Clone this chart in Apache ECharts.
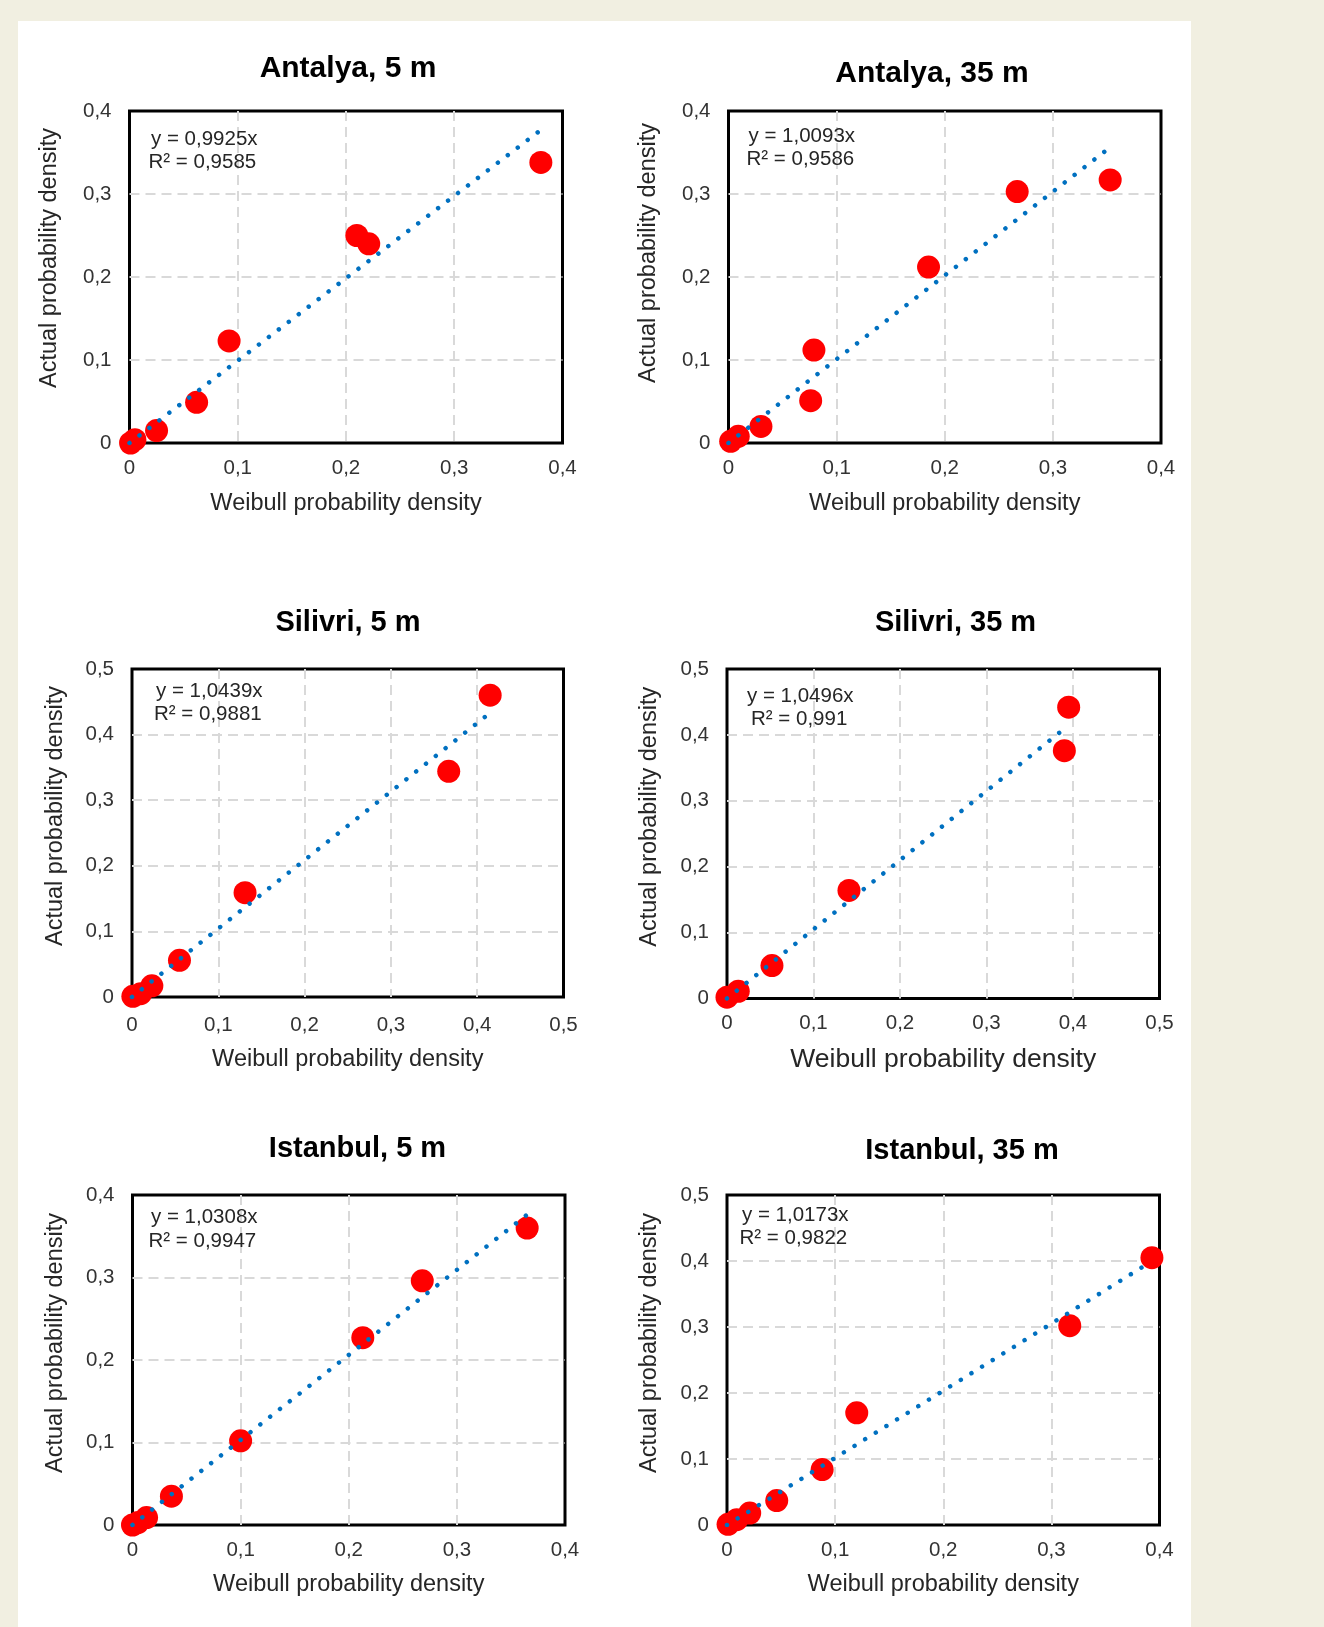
<!DOCTYPE html>
<html>
<head>
<meta charset="utf-8">
<script src="https://cdn.jsdelivr.net/npm/echarts@6/dist/echarts.min.js"></script>
<style>
html, body {
  margin: 0;
  padding: 0;
  background: #f1efe1;
}
#sheet {
  position: absolute;
  left: 18px;
  top: 21px;
  width: 1173px;
  height: 1606px;
  background: #fff;
}
#chart {
  position: absolute;
  left: 0;
  top: 0;
  width: 1324px;
  height: 1627px;
}
</style>
</head>
<body>
<div id="sheet"></div>
<div id="chart"></div>
<script>
// values: Weibull density (x) vs actual density (y)
const antalya5Weibull = [0.001, 0.005, 0.025, 0.062, 0.092, 0.210, 0.221, 0.380]
const antalya5Actual = [0.000, 0.004, 0.015, 0.049, 0.123, 0.250, 0.240, 0.338]
const antalya35Weibull = [0.002, 0.009, 0.030, 0.076, 0.079, 0.185, 0.267, 0.353]
const antalya35Actual = [0.002, 0.008, 0.020, 0.051, 0.112, 0.212, 0.303, 0.317]
const silivri5Weibull = [0.001, 0.010, 0.023, 0.055, 0.131, 0.367, 0.415]
const silivri5Actual = [0.001, 0.005, 0.017, 0.056, 0.159, 0.344, 0.460]
const silivri35Weibull = [0.000, 0.013, 0.052, 0.141, 0.390, 0.395]
const silivri35Actual = [0.002, 0.011, 0.050, 0.164, 0.376, 0.442]
const istanbul5Weibull = [0.000, 0.005, 0.013, 0.036, 0.100, 0.213, 0.268, 0.365]
const istanbul5Actual = [0.000, 0.003, 0.009, 0.035, 0.102, 0.227, 0.296, 0.360]
const istanbul35Weibull = [0.001, 0.009, 0.021, 0.046, 0.088, 0.120, 0.317, 0.393]
const istanbul35Actual = [0.001, 0.008, 0.018, 0.037, 0.084, 0.170, 0.302, 0.405]

const titles = ['Antalya, 5 m', 'Antalya, 35 m', 'Silivri, 5 m', 'Silivri, 35 m', 'Istanbul, 5 m', 'Istanbul, 35 m']
const slopes = [0.9925, 1.0093, 1.0439, 1.0496, 1.0308, 1.0173] // trendline y = a·x
const equations = ['y = 0,9925x', 'y = 1,0093x', 'y = 1,0439x', 'y = 1,0496x', 'y = 1,0308x', 'y = 1,0173x']
const rSquared = ['R² = 0,9585', 'R² = 0,9586', 'R² = 0,9881', 'R² = 0,991', 'R² = 0,9947', 'R² = 0,9822']
const xMax = [0.4, 0.4, 0.5, 0.5, 0.4, 0.4]
const yMax = [0.4, 0.4, 0.5, 0.5, 0.4, 0.5]
const xName = 'Weibull probability density'
const yName = 'Actual probability density'

const weibull = [antalya5Weibull, antalya35Weibull, silivri5Weibull, silivri35Weibull, istanbul5Weibull, istanbul35Weibull]
const actual = [antalya5Actual, antalya35Actual, silivri5Actual, silivri35Actual, istanbul5Actual, istanbul35Actual]

// layout of the six panels (pixels)
const grids = [
  { left: 129.5, top: 111, width: 433, height: 332 },
  { left: 728.5, top: 111, width: 432.5, height: 332 },
  { left: 132, top: 669, width: 431.5, height: 328 },
  { left: 727, top: 669, width: 432.5, height: 329.5 },
  { left: 132.5, top: 1195, width: 432.5, height: 330 },
  { left: 727, top: 1195, width: 432.5, height: 330 }
]
const titlePos = [[348, 68.5, 30], [932, 73.5, 30], [348, 623, 29], [955.5, 623, 29], [357.5, 1148.5, 29], [962, 1150.5, 29]]
const eqPos = [
  [[151, 139], [148.5, 162.5]],
  [[748.5, 136.5], [746.5, 159.5]],
  [[156, 691], [154, 714]],
  [[747, 696], [751, 719.5]],
  [[151, 1217.5], [148.5, 1241]],
  [[742, 1215.5], [739.5, 1238.5]]
]
const xNameGap = [49, 49, 51, 47.5, 47.5, 47.5]
const xNameSize = [23.5, 23.5, 23.5, 26.5, 23.5, 23.5]
const xLabelMargin = [14.5, 14.5, 17.5, 14.5, 14.5, 15]
const yNameGap = [68, 68, 64, 65, 64.5, 65]
const yNameShift = [19, 24, 17, 17, 17, 17]

const FONT = '"Liberation Sans", Arial, sans-serif'
const fmt = v => (v === 0 ? '0' : Number(v).toFixed(1).replace('.', ','))

const chart = echarts.init(document.getElementById('chart'), null, { renderer: 'canvas' })

const option = {
  animation: false,
  backgroundColor: 'transparent',
  grid: [],
  xAxis: [],
  yAxis: [],
  series: [],
  graphic: []
}

for (let i = 0; i < 6; i++) {
  option.grid.push(Object.assign({
    show: true,
    borderColor: '#000',
    borderWidth: 3,
    backgroundColor: 'transparent',
    containLabel: false,
    outerBoundsMode: 'none'
  }, grids[i]))

  option.xAxis.push({
    type: 'value',
    gridIndex: i,
    min: 0,
    max: xMax[i],
    interval: 0.1,
    name: xName,
    nameLocation: 'middle',
    nameGap: xNameGap[i],
    nameMoveOverlap: false,
    nameTextStyle: { fontFamily: FONT, fontSize: xNameSize[i], color: '#262626' },
    axisLine: { show: false },
    axisTick: { show: false },
    axisLabel: {
      margin: xLabelMargin[i],
      fontFamily: FONT,
      fontSize: 20.5,
      color: '#333',
      showMinLabel: true,
      showMaxLabel: true,
      formatter: fmt
    },
    splitLine: {
      show: true,
      showMinLine: false,
      showMaxLine: false,
      lineStyle: { color: '#d9d9d9', width: 2, type: [10, 6] }
    }
  })

  option.yAxis.push({
    type: 'value',
    gridIndex: i,
    min: 0,
    max: yMax[i],
    interval: 0.1,
    name: yName,
    nameLocation: 'middle',
    nameGap: yNameGap[i],
    nameMoveOverlap: false,
    nameTextStyle: {
      fontFamily: FONT,
      fontSize: 23.5,
      color: '#262626',
      padding: [0, 0, 0, yNameShift[i] * 2]
    },
    axisLine: { show: false },
    axisTick: { show: false },
    axisLabel: {
      margin: 18,
      fontFamily: FONT,
      fontSize: 20.5,
      color: '#333',
      showMinLabel: true,
      showMaxLabel: true,
      formatter: fmt
    },
    splitLine: {
      show: true,
      showMinLine: false,
      showMaxLine: false,
      lineStyle: { color: '#d9d9d9', width: 2, type: [10, 6] }
    }
  })

  // observed points
  option.series.push({
    type: 'scatter',
    xAxisIndex: i,
    yAxisIndex: i,
    symbol: 'circle',
    symbolSize: 23,
    itemStyle: { color: '#ff0000', opacity: 1 },
    z: 2,
    data: weibull[i].map((x, k) => [x, actual[i][k]])
  })

  // linear trendline through the origin, over the range of the data
  const xEnd = Math.max(...weibull[i])
  option.series.push({
    type: 'line',
    xAxisIndex: i,
    yAxisIndex: i,
    showSymbol: false,
    symbol: 'none',
    silent: true,
    z: 3,
    lineStyle: { color: '#0070c0', width: 4.5, type: [0.01, 12.5], cap: 'round' },
    data: [[0, 0], [xEnd, slopes[i] * xEnd]]
  })

  option.graphic.push({
    type: 'text',
    z: 100,
    x: titlePos[i][0],
    y: titlePos[i][1],
    style: {
      text: titles[i],
      font: 'bold ' + titlePos[i][2] + 'px ' + FONT,
      fill: '#000',
      align: 'center',
      verticalAlign: 'middle',
      textAlign: 'center',
      textVerticalAlign: 'middle'
    }
  })
  const lines = [equations[i], rSquared[i]]
  for (let j = 0; j < 2; j++) {
    option.graphic.push({
      type: 'text',
      z: 100,
      x: eqPos[i][j][0],
      y: eqPos[i][j][1],
      style: {
        text: lines[j],
        font: '20.5px ' + FONT,
        fill: '#262626',
        align: 'left',
        verticalAlign: 'middle',
        textAlign: 'left',
        textVerticalAlign: 'middle'
      }
    })
  }
}

chart.setOption(option)
</script>
</body>
</html>
